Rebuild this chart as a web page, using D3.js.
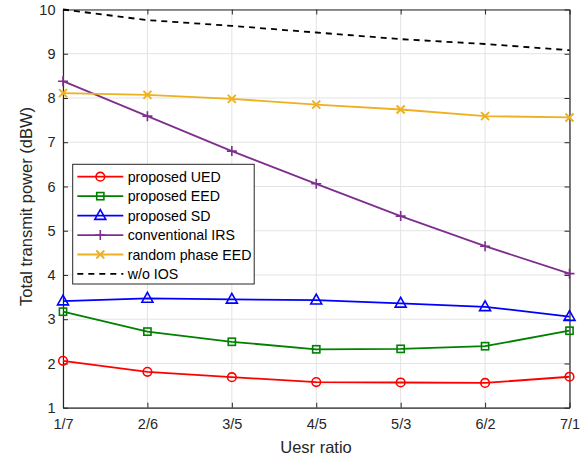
<!DOCTYPE html>
<html><head><meta charset="utf-8">
<script src="https://cdn.jsdelivr.net/npm/d3@7"></script>
<style>body{margin:0;background:#fff}svg{display:block;font-family:"Liberation Sans",Arial,sans-serif}</style>
</head><body><svg id="c" width="587" height="462"></svg>
<script>
const categories = ["1/7","2/6","3/5","4/5","5/3","6/2","7/1"];
const yTicks = [1,2,3,4,5,6,7,8,9,10];
const uedValues = [2.06,1.81,1.69,1.58,1.57,1.56,1.70];
const eedValues = [3.17,2.72,2.49,2.32,2.33,2.39,2.74];
const sdValues = [3.41,3.47,3.45,3.43,3.36,3.28,3.06];
const irsValues = [8.38,7.59,6.80,6.06,5.33,4.65,4.03];
const randomValues = [8.11,8.07,7.98,7.85,7.74,7.59,7.56];
const woValues = [10.0,9.76,9.63,9.48,9.33,9.22,9.08];
const seriesNames = ["proposed UED","proposed EED","proposed SD","conventional IRS","random phase EED","w/o IOS"];

const series = [
  {name:seriesNames[0], values:uedValues, color:"#ff0000", marker:"circle"},
  {name:seriesNames[1], values:eedValues, color:"#008000", marker:"square"},
  {name:seriesNames[2], values:sdValues, color:"#0000ff", marker:"triangle"},
  {name:seriesNames[3], values:irsValues, color:"#7e2f8e", marker:"plus"},
  {name:seriesNames[4], values:randomValues, color:"#edb120", marker:"x"},
  {name:seriesNames[5], values:woValues, color:"#000000", marker:"none", dash:"6,5"}
];

const svg = d3.select("#c");
const L=63, R=569.5, T=9.5, B=407.7;
const x = d3.scalePoint().domain(categories).range([L,R]);
const y = d3.scaleLinear().domain([1,10]).range([B,T]);
const axisColor = "#262626";

// grid
const g = svg.append("g");
g.selectAll("line.vg").data(categories).join("line")
  .attr("x1",d=>x(d)).attr("x2",d=>x(d)).attr("y1",T).attr("y2",B)
  .attr("stroke","#e3e3e3").attr("stroke-width",1);
g.selectAll("line.hg").data(yTicks).join("line")
  .attr("x1",L).attr("x2",R).attr("y1",d=>y(d)).attr("y2",d=>y(d))
  .attr("stroke","#e3e3e3").attr("stroke-width",1);

// axes
const ax = svg.append("g").attr("transform",`translate(0,${B})`)
  .call(d3.axisBottom(x).tickSizeInner(-5).tickSizeOuter(0).tickPadding(11));
const ay = svg.append("g").attr("transform",`translate(${L},0)`)
  .call(d3.axisLeft(y).tickValues(yTicks).tickSizeInner(-5).tickSizeOuter(0).tickPadding(7.5));
const axT = svg.append("g").attr("transform",`translate(0,${T})`)
  .call(d3.axisTop(x).tickSizeInner(-5).tickSizeOuter(0).tickFormat(""));
const ayR = svg.append("g").attr("transform",`translate(${R},0)`)
  .call(d3.axisRight(y).tickValues(yTicks).tickSizeInner(-5).tickSizeOuter(0).tickFormat(""));
[ax,ay,axT,ayR].forEach(a=>{
  a.selectAll("path").attr("stroke",axisColor).attr("stroke-width",1.2);
  a.selectAll("line").attr("stroke",axisColor).attr("stroke-width",1);
  a.selectAll("text").attr("fill",axisColor).style("font-size","14.5px").style("font-family","'Liberation Sans',Arial,sans-serif");
});

svg.append("text").attr("x",316).attr("y",453).attr("text-anchor","middle")
  .attr("fill",axisColor).style("font-size","16.5px").text("Uesr ratio");
svg.append("text").attr("transform",`translate(32,206.5) rotate(-90)`).attr("text-anchor","middle")
  .attr("fill",axisColor).style("font-size","16.5px").text("Total transmit power (dBW)");

function drawMarker(sel, type, color, cx, cy){
  if(type==="circle") sel.append("circle").attr("cx",cx).attr("cy",cy).attr("r",4.3).attr("fill","none").attr("stroke",color).attr("stroke-width",1.6);
  else if(type==="square") sel.append("rect").attr("x",cx-3.6).attr("y",cy-3.6).attr("width",7.2).attr("height",7.2).attr("fill","none").attr("stroke",color).attr("stroke-width",1.6);
  else if(type==="triangle") sel.append("path").attr("d",`M${cx},${cy-6}L${cx+5.5},${cy+3.8}L${cx-5.5},${cy+3.8}Z`).attr("fill","none").attr("stroke",color).attr("stroke-width",1.6);
  else if(type==="plus") sel.append("path").attr("d",`M${cx-5},${cy}H${cx+5}M${cx},${cy-5}V${cy+5}`).attr("stroke",color).attr("stroke-width",1.6);
  else if(type==="x") sel.append("path").attr("d",`M${cx-4},${cy-4}L${cx+4},${cy+4}M${cx-4},${cy+4}L${cx+4},${cy-4}`).attr("stroke",color).attr("stroke-width",2);
}

const line = d3.line().x((d,i)=>x(categories[i])).y(d=>y(d));
series.forEach(s=>{
  const gg = svg.append("g");
  gg.append("path").attr("d",line(s.values)).attr("fill","none").attr("stroke",s.color)
    .attr("stroke-width",1.8).attr("stroke-dasharray",s.dash||null);
  s.values.forEach((v,i)=>drawMarker(gg,s.marker,s.color,x(categories[i]),y(v)));
});

// legend
const lg = svg.append("g");
lg.append("rect").attr("x",72.7).attr("y",164.3).attr("width",181.5).attr("height",119.7)
  .attr("fill","#fff").attr("stroke",axisColor).attr("stroke-width",1);
series.forEach((s,i)=>{
  const yy = 176.7 + i*19.45;
  lg.append("line").attr("x1",77.3).attr("x2",123.3).attr("y1",yy).attr("y2",yy)
    .attr("stroke",s.color).attr("stroke-width",1.8).attr("stroke-dasharray",s.dash||null);
  drawMarker(lg,s.marker,s.color,100.3,yy);
  lg.append("text").attr("x",127.7).attr("y",yy+5).attr("fill","#000").style("font-size","14.2px").text(s.name);
});
</script></body></html>
